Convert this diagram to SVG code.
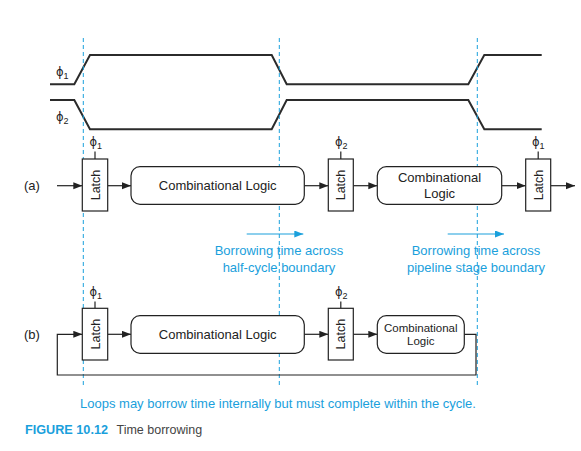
<svg xmlns="http://www.w3.org/2000/svg" width="581" height="451" viewBox="0 0 581 451">
<defs>
<style>
.wave{fill:none;stroke:#2b2b2b;stroke-width:2;stroke-linejoin:miter}
.box{fill:#fff;stroke:#222;stroke-width:1.2}
.ln{fill:none;stroke:#222;stroke-width:1.2}
.dash{fill:none;stroke:#1aa0dc;stroke-width:1;stroke-dasharray:4,3}
.barr{fill:none;stroke:#1aa0dc;stroke-width:1.2}
.t{font-family:"Liberation Sans",Arial,sans-serif;fill:#222}
.ph{font-family:"DejaVu Sans","Liberation Sans",sans-serif;fill:#222;font-size:11.5px}
.bt{font-family:"Liberation Sans",Arial,sans-serif;fill:#1aa0dc;font-size:13px}
.sub{font-family:"Liberation Sans",Arial,sans-serif;font-size:9px}
</style>
<marker id="ah" markerUnits="userSpaceOnUse" markerWidth="10" markerHeight="8" refX="9" refY="3.5" orient="auto">
<path d="M0,0 L9,3.5 L0,7 z" fill="#222"/>
</marker>
<marker id="bh" markerUnits="userSpaceOnUse" markerWidth="10" markerHeight="8" refX="9" refY="3.5" orient="auto">
<path d="M0,0 L9,3.5 L0,7 z" fill="#1aa0dc"/>
</marker>
</defs>
<rect width="581" height="451" fill="#fff"/>

<g id="waveforms">
<path class="wave" d="M50,84.3 H74.3 L90,55 H271.7 L286.7,84.3 H468.3 L484.3,55 H541.7"/>
<path class="wave" d="M50,100 H74.3 L90,129.3 H271.7 L286.7,100 H468.3 L484.3,129.3 H541.7"/>
<text class="ph" x="56" y="76">ϕ<tspan class="sub" dy="3">1</tspan></text>
<text class="ph" x="56" y="121">ϕ<tspan class="sub" dy="3">2</tspan></text>
</g>

<g id="guides">
<line class="dash" x1="83.3" y1="38" x2="83.3" y2="388"/>
<line class="dash" x1="279.3" y1="38" x2="279.3" y2="388"/>
<line class="dash" x1="477.3" y1="38" x2="477.3" y2="388"/>
</g>

<g id="labels">
<text class="t" x="24" y="190" font-size="13">(a)</text>
<text class="t" x="24" y="339" font-size="13">(b)</text>
</g>

<g id="connectors">
<line class="ln" x1="57" y1="185.7" x2="82.3" y2="185.7" marker-end="url(#ah)"/>
<line class="ln" x1="107.7" y1="185.7" x2="131" y2="185.7" marker-end="url(#ah)"/>
<line class="ln" x1="304.3" y1="185.7" x2="328.3" y2="185.7" marker-end="url(#ah)"/>
<line class="ln" x1="353.3" y1="185.7" x2="377.3" y2="185.7" marker-end="url(#ah)"/>
<line class="ln" x1="501.7" y1="185.7" x2="525.7" y2="185.7" marker-end="url(#ah)"/>
<line class="ln" x1="550.7" y1="185.7" x2="575" y2="185.7" marker-end="url(#ah)"/>
<line class="ln" x1="95" y1="159" x2="95" y2="151.5"/>
<line class="ln" x1="340.8" y1="159" x2="340.8" y2="151.5"/>
<line class="ln" x1="538.2" y1="159" x2="538.2" y2="151.5"/>
<path class="ln" d="M464.3,334.3 H476 V375 H57.3 V334.3 H82.3" marker-end="url(#ah)"/>
<line class="ln" x1="107.7" y1="334.3" x2="131" y2="334.3" marker-end="url(#ah)"/>
<line class="ln" x1="304.3" y1="334.3" x2="328.3" y2="334.3" marker-end="url(#ah)"/>
<line class="ln" x1="353.3" y1="334.3" x2="377.3" y2="334.3" marker-end="url(#ah)"/>
<line class="ln" x1="95" y1="308.3" x2="95" y2="301.5"/>
<line class="ln" x1="340.8" y1="308.3" x2="340.8" y2="301.5"/>
<line class="barr" x1="246.7" y1="234" x2="303.3" y2="234" marker-end="url(#bh)"/>
<line class="barr" x1="447.7" y1="234" x2="504" y2="234" marker-end="url(#bh)"/>
</g>

<g id="latch-a1">
<rect class="box" x="82.3" y="159" width="25.4" height="52"/>
<text class="t" font-size="12.5" text-anchor="middle" transform="translate(99.5,185) rotate(-90)">Latch</text>
<text class="ph" x="89.5" y="146">ϕ<tspan class="sub" dy="3">1</tspan></text>
</g>
<g id="logic-a1">
<rect class="box" x="131" y="166.7" width="173.3" height="37.6" rx="9"/>
<text class="t" x="217.7" y="189.5" font-size="13" text-anchor="middle">Combinational Logic</text>
</g>
<g id="latch-a2">
<rect class="box" x="328.3" y="159" width="25" height="52"/>
<text class="t" font-size="12.5" text-anchor="middle" transform="translate(345.3,185) rotate(-90)">Latch</text>
<text class="ph" x="335" y="146">ϕ<tspan class="sub" dy="3">2</tspan></text>
</g>
<g id="logic-a2">
<rect class="box" x="377.3" y="166.7" width="124.4" height="37.6" rx="9"/>
<text class="t" x="439.5" y="181.5" font-size="13" text-anchor="middle">Combinational</text>
<text class="t" x="439.5" y="197.5" font-size="13" text-anchor="middle">Logic</text>
</g>
<g id="latch-a3">
<rect class="box" x="525.7" y="159" width="25" height="52"/>
<text class="t" font-size="12.5" text-anchor="middle" transform="translate(542.7,185) rotate(-90)">Latch</text>
<text class="ph" x="532" y="146">ϕ<tspan class="sub" dy="3">1</tspan></text>
</g>

<g id="borrow-notes">
<text class="bt" x="279" y="255" text-anchor="middle">Borrowing time across</text>
<text class="bt" x="279" y="271.5" text-anchor="middle">half-cycle boundary</text>
<text class="bt" x="476" y="255" text-anchor="middle">Borrowing time across</text>
<text class="bt" x="476" y="271.5" text-anchor="middle">pipeline stage boundary</text>
</g>

<g id="latch-b1">
<rect class="box" x="82.3" y="308.3" width="25.4" height="51.7"/>
<text class="t" font-size="12.5" text-anchor="middle" transform="translate(99.5,334.2) rotate(-90)">Latch</text>
<text class="ph" x="89.5" y="295.5">ϕ<tspan class="sub" dy="3">1</tspan></text>
</g>
<g id="logic-b1">
<rect class="box" x="131" y="315.7" width="173.3" height="37.6" rx="9"/>
<text class="t" x="217.7" y="338.5" font-size="13" text-anchor="middle">Combinational Logic</text>
</g>
<g id="latch-b2">
<rect class="box" x="328.3" y="308.3" width="25" height="51.7"/>
<text class="t" font-size="12.5" text-anchor="middle" transform="translate(345.3,334.2) rotate(-90)">Latch</text>
<text class="ph" x="335" y="295.5">ϕ<tspan class="sub" dy="3">2</tspan></text>
</g>
<g id="logic-b2">
<rect class="box" x="377.3" y="315.7" width="87" height="37.6" rx="9"/>
<text class="t" x="420.8" y="331.5" font-size="11.5" text-anchor="middle">Combinational</text>
<text class="t" x="420.8" y="345" font-size="11.5" text-anchor="middle">Logic</text>
</g>

<g id="loop-note">
<text class="bt" x="278" y="407.5" font-size="13.1" text-anchor="middle">Loops may borrow time internally but must complete within the cycle.</text>
</g>

<g id="caption">
<text x="25" y="434" font-family="'Liberation Sans Narrow','Liberation Sans',Arial,sans-serif" font-weight="bold" font-size="13.5" fill="#1aa0dc" textLength="83" lengthAdjust="spacingAndGlyphs">FIGURE 10.12</text>
<text x="116.5" y="434" font-family="'Liberation Sans',Arial,sans-serif" font-size="12.5" fill="#444">Time borrowing</text>
</g>
</svg>
